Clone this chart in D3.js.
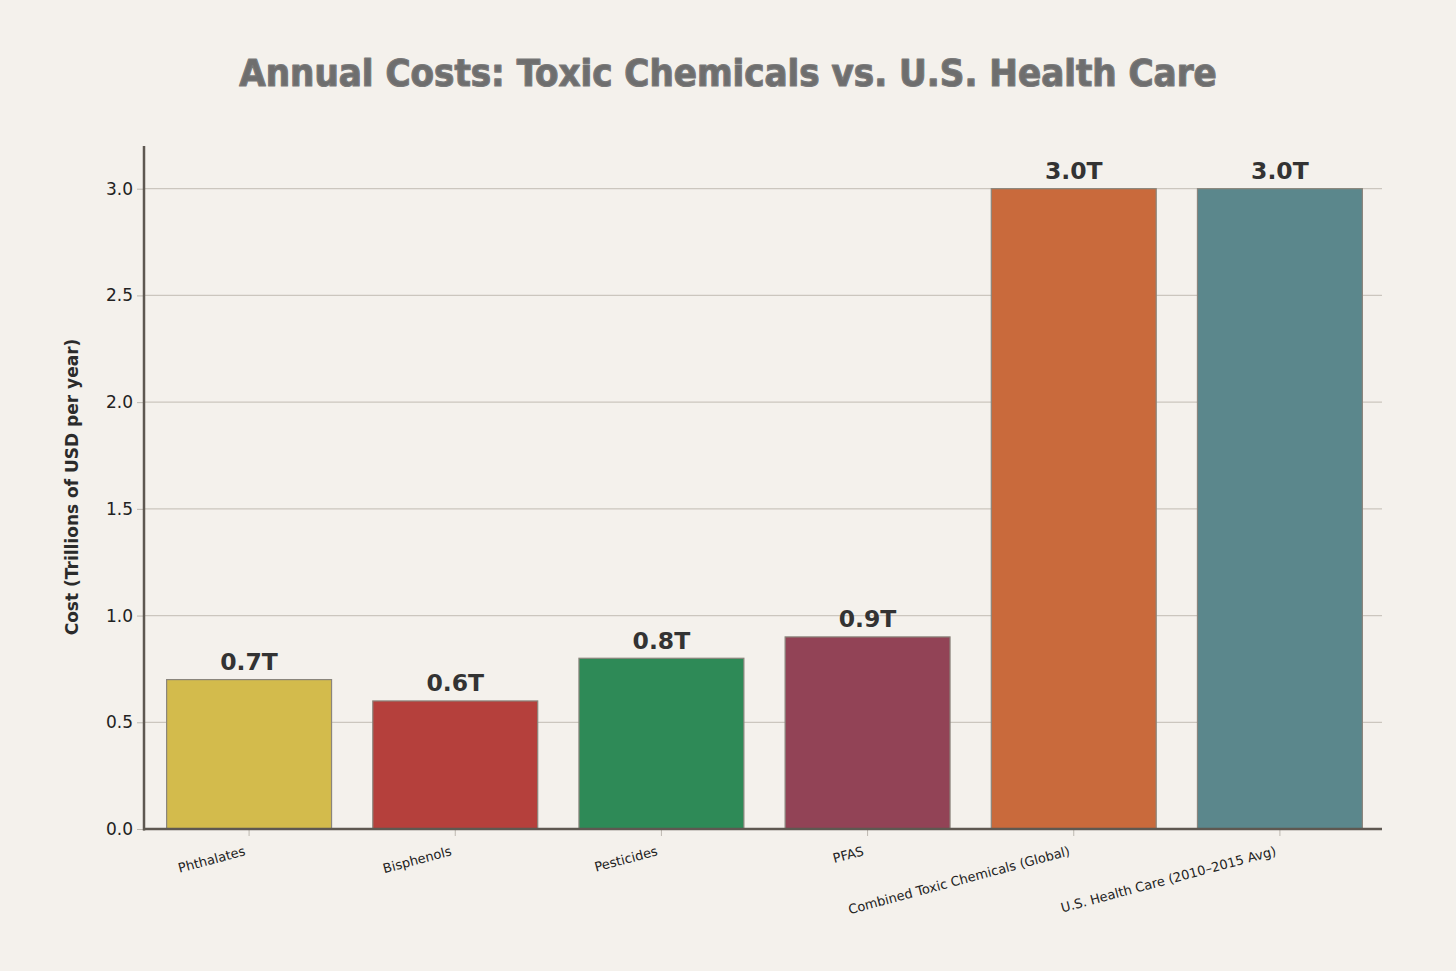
<!DOCTYPE html>
<html><head><meta charset="utf-8">
<script src="https://cdn.jsdelivr.net/npm/d3@7"></script>
<style>body{margin:0;background:#f4f1ec;}svg{display:block;}</style>
</head><body>
<svg id="chart" width="1456" height="971"></svg>
<script>
const categories = ["Phthalates","Bisphenols","Pesticides","PFAS","Combined Toxic Chemicals (Global)","U.S. Health Care (2010–2015 Avg)"];
const values = [0.7,0.6,0.8,0.9,3.0,3.0];
const colors = ["#d3bb4c","#b5403c","#2e8a57","#924356","#c96a3c","#5b878c"];
const yTicks = [0,0.5,1.0,1.5,2.0,2.5,3.0];

const svg = d3.select("#chart");
svg.append("rect").attr("width",1456).attr("height",971).attr("fill","#f4f1ec");
const L=144, R=1382, T=146, B=829;
const x = d3.scaleBand().domain(categories).range([L+2,R+1]).paddingInner(0.2).paddingOuter(0.1);
const y = d3.scaleLinear().domain([0,3.2]).range([B,T]);

// grid
svg.append("g").selectAll("line").data(yTicks).join("line")
  .attr("x1",L).attr("x2",R).attr("y1",d=>y(d)).attr("y2",d=>y(d))
  .attr("stroke","#cbc6be").attr("stroke-width",1.2);

// bars
svg.append("g").selectAll("rect").data(values).join("rect")
  .attr("x",(d,i)=>x(categories[i])).attr("width",x.bandwidth())
  .attr("y",d=>y(d)).attr("height",d=>B-y(d))
  .attr("fill",(d,i)=>colors[i]).attr("stroke","#8a857c").attr("stroke-width",1.2);

// value labels
svg.append("g").selectAll("text").data(values).join("text")
  .attr("x",(d,i)=>x(categories[i])+x.bandwidth()/2).attr("y",d=>y(d)-9.5)
  .attr("text-anchor","middle").attr("font-family","DejaVu Sans").attr("font-weight","bold")
  .attr("font-size",23.5).attr("fill","#333").text(d=>d.toFixed(1)+"T");

// y axis
const ya = svg.append("g").attr("transform",`translate(${L},0)`)
  .call(d3.axisLeft(y).tickValues(yTicks).tickFormat(d3.format(".1f")).tickSize(7).tickPadding(4));
ya.select(".domain").remove();
ya.selectAll(".tick line").attr("stroke","#bdb8b0");
ya.selectAll(".tick text").attr("font-family","DejaVu Sans").attr("font-size",17).attr("fill","#222");

// x axis
const xa = svg.append("g").attr("transform",`translate(0,${B})`)
  .call(d3.axisBottom(x).tickSize(7).tickSizeOuter(0));
xa.select(".domain").remove();
xa.selectAll(".tick line").attr("stroke","#bdb8b0");
xa.selectAll(".tick text").attr("font-family","DejaVu Sans").attr("font-size",13).attr("fill","#222")
  .attr("text-anchor","end").attr("y",0).attr("dy",0)
  .attr("transform","translate(-3,26) rotate(-15)");

// spines
svg.append("line").attr("x1",L).attr("x2",L).attr("y1",T).attr("y2",B+1.5).attr("stroke","#5e5851").attr("stroke-width",2.5);
svg.append("line").attr("x1",L-1).attr("x2",R).attr("y1",B).attr("y2",B).attr("stroke","#5e5851").attr("stroke-width",2.5);

// y label
svg.append("text").attr("transform","translate(78,487) rotate(-90)").attr("text-anchor","middle")
  .attr("font-family","DejaVu Sans").attr("font-weight","bold").attr("font-size",17).attr("fill","#2b2b2b")
  .text("Cost (Trillions of USD per year)");

// title
svg.append("text").attr("x",728).attr("y",86).attr("text-anchor","middle")
  .attr("font-family","DejaVu Sans Condensed, DejaVu Sans").attr("font-stretch","condensed").attr("font-weight","bold").attr("font-size",38).attr("fill","#6e6e6e")
  .attr("stroke","#7a7a7a").attr("stroke-width",1.2).attr("stroke-linejoin","round")
  .text("Annual Costs: Toxic Chemicals vs. U.S. Health Care");
</script>
</body></html>
